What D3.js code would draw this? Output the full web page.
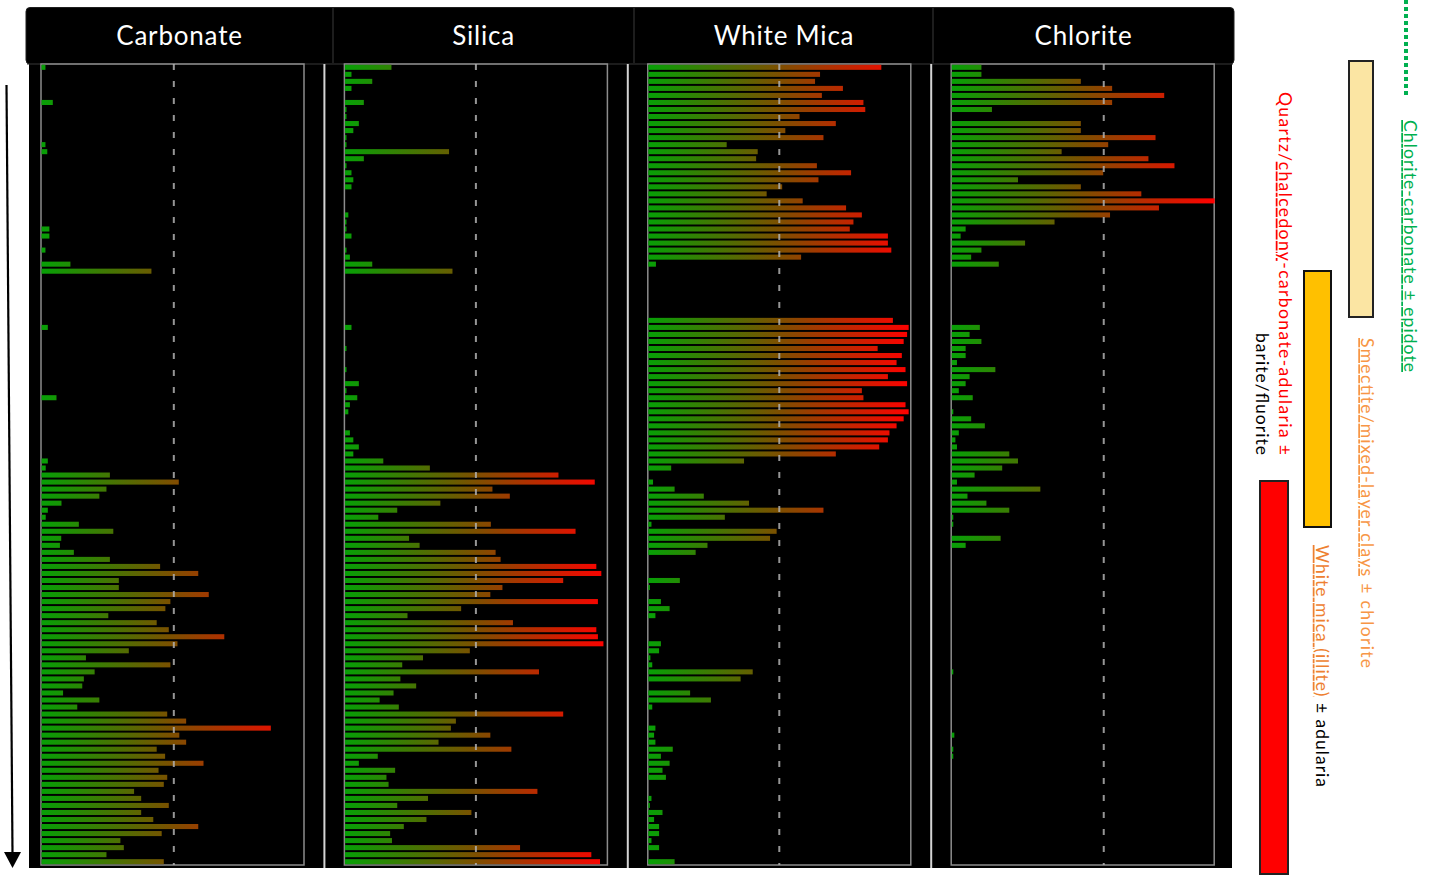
<!DOCTYPE html>
<html>
<head>
<meta charset="utf-8">
<script src="https://cdn.jsdelivr.net/npm/d3@7"></script>
<style>
  body { margin: 0; background: #fff; }
  svg { display: block; }
</style>
</head>
<body>
<svg id="chart" width="1433" height="879"></svg>
<script>
// Mineral panels (left to right)
const minerals = ["Carbonate", "Silica", "White Mica", "Chlorite"];

// Relative intensity per downhole interval (0-100), top of hole first, 114 intervals
const carbonate = [
  1.5,0,0,0,0,4.3,0,0,0,0,
  0,1.5,2.2,0,0,0,0,0,0,0,
  0,0,0,3,3,0,1.5,0,11,41.8,
  0,0,0,0,0,0,0,2.4,0,0,
  0,0,0,0,0,0,0,5.7,0,0,
  0,0,0,0,0,0,2.4,1.6,26,52.2,
  24.7,22,7.6,2.4,1.6,14.2,27.3,7.5,7,12.3,
  26,45.1,59.6,29.4,29.4,63.6,49,47.1,25.4,43.8,
  48.4,69.5,51.7,33.2,16.9,49,20.2,16.1,15.5,8.2,
  22,13.6,47.8,55,87.2,52.4,55,43.8,47,61.6,
  44.5,47.8,46.5,35.2,37.9,48.4,37.9,42.5,59.6,45.7,
  30,31.3,24.7,46.5
];
const silica = [
  17.7,2.5,10.4,2.5,0,7.2,0.6,0.6,5.3,3.2,
  0.6,0.6,39.6,7.2,0.6,2.5,3.2,2.5,0,0,
  0,1.3,0.6,0.6,2.5,0,0.6,1.9,10.4,40.9,
  0,0,0,0,0,0,0,2.5,0,0,
  0.6,0,0,0.6,0,5.3,0.6,4.7,1.9,1.3,
  0,0,1.9,3.2,5.3,3.2,14.6,32.3,81.2,95,
  56.1,62.7,36.3,19.9,12.7,55.5,87.7,24.4,28.4,57.3,
  59.2,95.6,97.5,83,59.9,55.3,96.2,44.2,23.8,63.9,
  95.6,96.2,98.3,47.5,29.7,21.8,73.8,21.1,27.1,18.5,
  13.2,20.5,83,42.2,40.3,55.3,35.6,63.3,12.5,5.3,
  19.1,15.8,16.6,73.2,31.6,19.9,48.1,31,22.4,17.2,
  17.9,66.6,93.7,97
];
const whiteMica = [
  88.6,65.3,63.4,74,66,81.8,82.5,57.5,71.3,52.1,
  66.6,29.8,41.6,41,64.1,77.1,64.7,50.9,45,58.7,
  75.2,81.2,78,76.6,91.1,91.1,92.4,58.1,2.9,0,
  0,0,0,0,0,0,93,99,98.4,97.1,
  87.2,96.4,94.4,97.8,91.1,98.4,81.2,81.8,97.8,99,
  97.1,94.4,91.7,91.1,87.8,71.3,36.4,8.7,0,1.8,
  10,21.1,38.3,66.6,29.1,1.2,48.8,46.3,22.5,18,
  0,0,0,12,0.6,0,4.8,8.1,2.7,0,
  0,0,4.8,4.1,0.8,1.5,39.7,35.1,0,15.9,
  23.8,1.5,0,0,2.7,2.2,2.7,9.3,4.8,8.1,
  5.4,6.7,0,0,1.2,0.6,5.4,2.2,4.1,4.1,
  1.2,4.1,0,10
];
const chlorite = [
  11.3,11.3,49.1,61,80.8,61,15.3,0,49.1,49.1,
  77.5,59.5,41.8,74.8,84.7,57.6,25.2,49.1,72.1,100,
  78.8,60.2,39.1,5.3,3.4,27.9,11.3,7.4,17.9,0,
  0,0,0,0,0,0,0,10.7,6.8,11.3,
  5.3,5.3,2,16.6,6.8,5.3,2.7,8,0,0.6,
  7.4,12.6,2.7,1.4,2,21.9,25.2,19.2,8.7,2,
  33.7,6,13.2,21.9,0.6,0.6,0,18.6,5.3,0,
  0,0,0,0,0,0,0,0,0,0,
  0,0,0,0,0,0,0.6,0,0,0,
  0,0,0,0,0,1,0,0.6,0.6,0,
  0,0,0,0,0,0,0,0,0,0,
  0,0,0,0
];
const seriesByMineral = [carbonate, silica, whiteMica, chlorite];

// Intensity axis: shared domain and each panel's dashed threshold value
const intensityDomain = [0, 100];
const thresholds = [50.5, 50, 50, 58];

// Alteration zone labels (rotated, read top to bottom)
const zoneChlorite = ["Chlorite-carbonate ± epidote"];
const zoneSmectite = ["Smectite/mixed-layer clays", " ± chlorite"];
const zoneIllite = ["White mica (illite)", " ± adularia"];
const zoneQuartz = ["Quartz/", "chalcedony", "-carbonate-adularia ±"];
const zoneQuartzLine2 = ["barite/fluorite"];

const svg = d3.select("#chart");
const defs = svg.append("defs");

// ---- layout ----
const panelBand = d3.scaleBand().domain(minerals).range([21, 1234.6]);
const frameInset = 20, frameWidth = 263;
const plotTop = 64, plotBottom = 865;

const rows = d3.range(carbonate.length);
const y = d3.scaleBand().domain(rows).range([63.8, 865.2])
  .paddingInner(0.28).paddingOuter(0.14);

// black background and header strip
svg.append("rect").attr("x", 29).attr("y", 60).attr("width", 1203).attr("height", 808).attr("fill", "#000");
svg.append("rect").attr("x", 26).attr("y", 7.5).attr("width", 1208).attr("height", 56.5)
  .attr("rx", 4).attr("fill", "#000").attr("stroke", "#1e1e1e").attr("stroke-width", 1);
[333, 634, 933].forEach(xx => {
  svg.append("line").attr("x1", xx).attr("x2", xx).attr("y1", 8).attr("y2", 63)
    .attr("stroke", "#3a3a3a").attr("stroke-width", 1);
});
svg.append("line").attr("x1", 27).attr("x2", 1233).attr("y1", 64).attr("y2", 64)
  .attr("stroke", "#2b2b2b").attr("stroke-width", 1);

const headerCenters = [179.5, 483.5, 784, 1083.5];
svg.selectAll("text.title").data(minerals).join("text")
  .attr("class", "title")
  .attr("x", (d, i) => headerCenters[i])
  .attr("y", 45)
  .attr("text-anchor", "middle")
  .attr("fill", "#fff")
  .attr("font-family", "Lato, 'Open Sans', sans-serif")
  .attr("font-size", 26)
  .attr("letter-spacing", 0.8)
  .text(d => d);

// panel separators
minerals.slice(1).forEach(m => {
  const xx = panelBand(m);
  svg.append("line").attr("x1", xx).attr("x2", xx).attr("y1", 64).attr("y2", 868)
    .attr("stroke", "#d4d4d4").attr("stroke-width", 2);
});

// panels
minerals.forEach((m, i) => {
  const left = panelBand(m) + frameInset;
  const x = d3.scaleLinear().domain(intensityDomain).range([left, left + frameWidth]);
  const g = svg.append("g").attr("class", "panel");

  const grad = defs.append("linearGradient")
    .attr("id", "grad" + i)
    .attr("gradientUnits", "userSpaceOnUse")
    .attr("x1", x(0)).attr("x2", x(100)).attr("y1", 0).attr("y2", 0);
  grad.append("stop").attr("offset", "0%").attr("stop-color", "#06a006");
  grad.append("stop").attr("offset", "50%").attr("stop-color", "#7d4f00");
  grad.append("stop").attr("offset", "100%").attr("stop-color", "#ff0000");

  // frame
  g.append("rect").attr("x", x(0)).attr("y", plotTop)
    .attr("width", x(100) - x(0)).attr("height", plotBottom - plotTop)
    .attr("fill", "none").attr("stroke", "#8c8c8c").attr("stroke-width", 1.5);

  const vals = seriesByMineral[i];
  g.selectAll("rect.bar").data(rows.filter(r => vals[r] > 0)).join("rect")
    .attr("class", "bar")
    .attr("x", x(0) + 0.5)
    .attr("y", r => y(r))
    .attr("width", r => x(vals[r]) - x(0))
    .attr("height", y.bandwidth())
    .attr("fill", "url(#grad" + i + ")");

  // dashed threshold line, drawn over the bars
  g.append("line").attr("x1", x(thresholds[i])).attr("x2", x(thresholds[i]))
    .attr("y1", plotTop).attr("y2", plotBottom)
    .attr("stroke", "#b0b0b0").attr("stroke-opacity", 0.85).attr("stroke-width", 2)
    .attr("stroke-dasharray", "6,11");
});

// depth arrow on the left
svg.append("line").attr("x1", 6.5).attr("y1", 85).attr("x2", 12.5).attr("y2", 853)
  .attr("stroke", "#000").attr("stroke-width", 2.2);
svg.append("path").attr("d", "M4,852 L21,852 L12.5,868 Z").attr("fill", "#000");

// ---- alteration zone legend ----
const labelFont = "Lato, 'Open Sans', sans-serif";
function rotatedLabel(bx, sy, len, parts) {
  const t = svg.append("text")
    .attr("transform", `translate(${bx},${sy}) rotate(90)`)
    .attr("font-family", labelFont)
    .attr("font-size", 17.5)
    .attr("textLength", len)
    .attr("lengthAdjust", "spacing");
  parts.forEach(p => {
    t.append("tspan").attr("fill", p.color)
      .attr("text-decoration", p.underline ? "underline" : null)
      .text(p.text);
  });
  return t;
}

svg.append("line").attr("x1", 1406).attr("x2", 1406).attr("y1", 0).attr("y2", 98)
  .attr("stroke", "#00b050").attr("stroke-width", 4).attr("stroke-dasharray", "4,3");
rotatedLabel(1404, 120, 252, [{ text: zoneChlorite[0], color: "#00b050", underline: true }]);

svg.append("rect").attr("x", 1349).attr("y", 61).attr("width", 24).attr("height", 256)
  .attr("fill", "#fbe5a3").attr("stroke", "#222").attr("stroke-width", 2);
rotatedLabel(1361, 338, 330, [
  { text: zoneSmectite[0], color: "#f79646", underline: true },
  { text: zoneSmectite[1], color: "#f79646" }
]);

svg.append("rect").attr("x", 1304).attr("y", 271).attr("width", 27).attr("height", 256)
  .attr("fill", "#ffc000").attr("stroke", "#111").attr("stroke-width", 2);
rotatedLabel(1315.5, 545, 242, [
  { text: zoneIllite[0], color: "#ee8030", underline: true },
  { text: zoneIllite[1], color: "#000" }
]);

svg.append("rect").attr("x", 1260).attr("y", 481).attr("width", 28).attr("height", 393)
  .attr("fill", "#ff0000").attr("stroke", "#222").attr("stroke-width", 2);
rotatedLabel(1278.5, 92, 363, [
  { text: zoneQuartz[0], color: "#ff0000" },
  { text: zoneQuartz[1], color: "#ff0000", underline: true },
  { text: zoneQuartz[2], color: "#ff0000" }
]);
rotatedLabel(1255.5, 333, 122, [{ text: zoneQuartzLine2[0], color: "#000" }]);
</script>
</body>
</html>
